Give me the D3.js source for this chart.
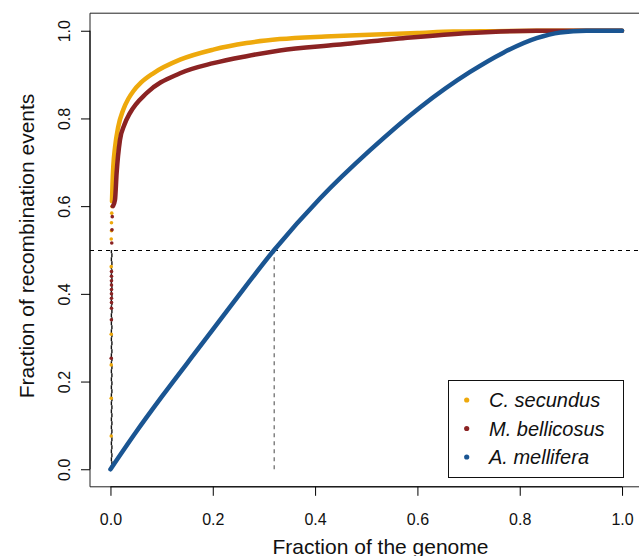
<!DOCTYPE html>
<html>
<head>
<meta charset="utf-8">
<script src="https://cdn.jsdelivr.net/npm/d3@7"></script>
<style>
  body { margin: 0; background: white; }
  svg { display: block; font-family: "Liberation Sans", Arial, Helvetica, sans-serif; }
</style>
</head>
<body>
<div id="chart"></div>
<script>
// Cumulative fraction of recombination events vs fraction of the genome

// C. secundus
var secundusX = [0.003, 0.004, 0.0055, 0.009, 0.015, 0.025, 0.035, 0.0446, 0.06, 0.0837, 0.136, 0.201, 0.266, 0.331, 0.42, 0.507, 0.6, 0.67, 0.75, 0.85, 1.0];
var secundusY = [0.611, 0.65, 0.69, 0.735, 0.78, 0.82, 0.845, 0.862, 0.882, 0.903, 0.934, 0.957, 0.972, 0.981, 0.987, 0.991, 0.995, 0.998, 0.999, 1.0, 1.0];
var secundusSparseX = [0.0015, 0.0015, 0.0015, 0.0015, 0.0015, 0.0015, 0.002, 0.002, 0.0025, 0.0028];
var secundusSparseY = [0.076, 0.162, 0.238, 0.308, 0.462, 0.525, 0.544, 0.562, 0.584, 0.599];

// M. bellicosus
var bellicosusX = [0.005, 0.0088, 0.012, 0.0186, 0.027, 0.038, 0.0708, 0.136, 0.201, 0.266, 0.331, 0.442, 0.572, 0.703, 0.833, 1.0];
var bellicosusY = [0.6, 0.614, 0.675, 0.751, 0.785, 0.812, 0.858, 0.903, 0.926, 0.942, 0.955, 0.968, 0.983, 0.995, 1.0, 1.0];
var bellicosusSparseX = [0.0015, 0.0018, 0.002, 0.002, 0.002, 0.002, 0.002, 0.002, 0.002, 0.002, 0.002, 0.0025, 0.003, 0.0035, 0.004];
var bellicosusSparseY = [0.253, 0.341, 0.367, 0.38, 0.39, 0.40, 0.41, 0.42, 0.43, 0.44, 0.451, 0.516, 0.546, 0.576, 0.6];

// A. mellifera
var melliferaX = [0, 0.05, 0.1, 0.175, 0.24, 0.32, 0.41, 0.507, 0.605, 0.703, 0.768, 0.833, 0.879, 0.93, 1.0];
var melliferaY = [0, 0.085, 0.165, 0.28, 0.38, 0.5, 0.618, 0.727, 0.825, 0.906, 0.95, 0.983, 0.996, 1.0, 1.0];

// half-way markers (50% of events)
var halfY = 0.5;
var halfX = [0.0018, 0.0028, 0.32];

var speciesNames = ["C. secundus", "M. bellicosus", "A. mellifera"];
var speciesColors = ["#EEA90C", "#8B2323", "#1A5592"];

var xTicks = [0, 0.2, 0.4, 0.6, 0.8, 1.0];
var yTicks = [0, 0.2, 0.4, 0.6, 0.8, 1.0];

var W = 639, H = 556;

var svg = d3.select("#chart").append("svg")
    .attr("width", W)
    .attr("height", H);

// R style: 4% extension on each side
var x = d3.scaleLinear().domain([-0.04, 1.04]).range([90, 642.5]);
var y = d3.scaleLinear().domain([-0.04, 1.04]).range([486.8, 13.2]);

// dashed reference lines
svg.append("line")
    .attr("x1", x(-0.04)).attr("x2", W)
    .attr("y1", y(halfY) + 0.5).attr("y2", y(halfY) + 0.5)
    .attr("stroke", "#000").attr("stroke-width", 1)
    .attr("stroke-dasharray", "4,4");

halfX.forEach(function(v, i){
    svg.append("line")
        .attr("x1", x(v)).attr("x2", x(v))
        .attr("y1", y(0)).attr("y2", y(halfY))
        .attr("stroke", i < 2 ? "#111" : "#444")
        .attr("stroke-width", i < 2 ? 1.4 : 1)
        .attr("stroke-dasharray", "4,4")
        .attr("stroke-dashoffset", i == 1 ? 4 : 0);
});

// curves
var line = d3.line()
    .x(function(d){ return x(d[0]); })
    .y(function(d){ return y(d[1]); })
    .curve(d3.curveMonotoneX);

function drawSeries(xs, ys, sx, sy, color){
    var pts = xs.map(function(v, i){ return [v, ys[i]]; });
    svg.append("path")
        .datum(pts)
        .attr("d", line)
        .attr("fill", "none")
        .attr("stroke", color)
        .attr("stroke-width", 4.5)
        .attr("stroke-linecap", "round");
    if (sx){
        svg.selectAll(null)
            .data(sx.map(function(v, i){ return [v, sy[i]]; }))
            .enter().append("circle")
            .attr("cx", function(d){ return x(d[0]); })
            .attr("cy", function(d){ return y(d[1]); })
            .attr("r", 1.8)
            .attr("fill", color);
    }
}

drawSeries(secundusX, secundusY, secundusSparseX, secundusSparseY, speciesColors[0]);
drawSeries(bellicosusX, bellicosusY, bellicosusSparseX, bellicosusSparseY, speciesColors[1]);
drawSeries(melliferaX, melliferaY, null, null, speciesColors[2]);

// plot box (right side runs off the page)
svg.append("path")
    .attr("d", "M" + x(1.04) + "," + y(1.04) + "H" + x(-0.04) + "V" + y(-0.04) + "H" + x(1.04))
    .attr("fill", "none")
    .attr("stroke", "#222")
    .attr("stroke-width", 1);

// x axis
var xAxis = d3.axisBottom(x).tickValues(xTicks).tickSize(9).tickPadding(18)
    .tickFormat(d3.format(".1f"));
var gx = svg.append("g")
    .attr("transform", "translate(0," + y(-0.04) + ")")
    .call(xAxis);
gx.select(".domain").attr("d", "M" + x(0) + ",0H" + x(1));
gx.selectAll("text").attr("font-size", 16).attr("fill", "#111")
    .attr("font-family", "Liberation Sans, Arial, sans-serif");

// y axis, labels rotated as in R
var yAxis = d3.axisLeft(y).tickValues(yTicks).tickSize(9).tickFormat(d3.format(".1f"));
var gy = svg.append("g")
    .attr("transform", "translate(" + x(-0.04) + ",0)")
    .call(yAxis);
gy.select(".domain").attr("d", "M0," + y(0) + "V" + y(1));
gy.selectAll(".tick text")
    .attr("x", null).attr("dy", null)
    .attr("transform", "translate(-20,0) rotate(-90)")
    .attr("text-anchor", "middle")
    .attr("font-size", 16).attr("fill", "#111")
    .attr("font-family", "Liberation Sans, Arial, sans-serif");

// axis titles
svg.append("text")
    .attr("x", 380.5).attr("y", 554)
    .attr("text-anchor", "middle")
    .attr("font-size", 21)
    .attr("fill", "#111")
    .text("Fraction of the genome");

svg.append("text")
    .attr("transform", "translate(33.5,246) rotate(-90)")
    .attr("text-anchor", "middle")
    .attr("font-size", 21)
    .attr("fill", "#111")
    .text("Fraction of recombination events");

// legend
var lg = svg.append("g");
lg.append("rect")
    .attr("x", 448.5).attr("y", 380.5)
    .attr("width", 175).attr("height", 97)
    .attr("fill", "white")
    .attr("stroke", "#111").attr("stroke-width", 1);

var legendRowY = d3.scalePoint().domain(speciesNames).range([400, 457]);
speciesNames.forEach(function(name, i){
    lg.append("circle")
        .attr("cx", 466.7).attr("cy", legendRowY(name))
        .attr("r", 2.6)
        .attr("fill", speciesColors[i]);
    lg.append("text")
        .attr("x", 489).attr("y", legendRowY(name) + 7)
        .attr("font-size", 20)
        .attr("font-style", "italic")
        .attr("fill", "#111")
        .text(name);
});
</script>
</body>
</html>
